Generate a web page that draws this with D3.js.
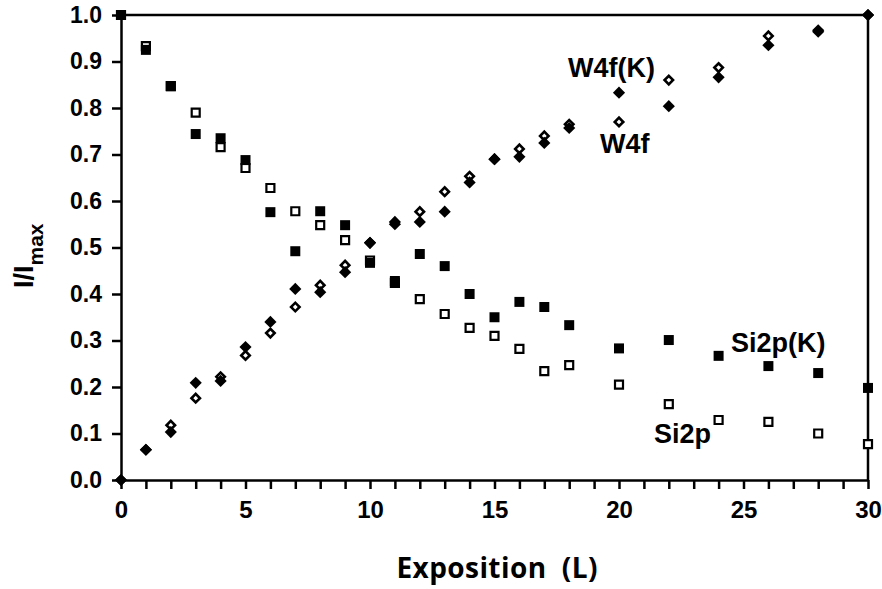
<!DOCTYPE html>
<html>
<head>
<meta charset="utf-8">
<script src="https://cdn.jsdelivr.net/npm/d3@7"></script>
<style>
  html, body { margin: 0; padding: 0; background: #fff; }
  svg { display: block; }
  .tick text { font-family: "Liberation Sans", Arial, sans-serif; font-weight: bold; fill: #000; }
</style>
</head>
<body>
<svg id="chart" width="882" height="589"></svg>
<script>
// ---- data ----
const exposure = [0, 1, 2, 3, 4, 5, 6, 7, 8, 9, 10, 11, 12, 13, 14, 15, 16, 17, 18, 20, 22, 24, 26, 28, 30];
const si2pK = [1.0, 0.925, 0.847, 0.744, 0.735, 0.688, 0.576, 0.492, 0.578, 0.548, 0.467, 0.428, 0.486, 0.46, 0.40, 0.35, 0.383, 0.372, 0.333, 0.283, 0.301, 0.267, 0.245, 0.23, 0.198];
const si2p  = [1.0, 0.933, 0.847, 0.79, 0.716, 0.671, 0.628, 0.578, 0.548, 0.516, 0.472, 0.424, 0.389, 0.357, 0.327, 0.31, 0.282, 0.234, 0.247, 0.205, 0.163, 0.129, 0.125, 0.10, 0.077];
const w4fK  = [0.0, 0.065, 0.103, 0.209, 0.213, 0.286, 0.34, 0.411, 0.404, 0.447, 0.51, 0.55, 0.555, 0.577, 0.64, 0.69, 0.695, 0.725, 0.757, 0.833, 0.804, 0.866, 0.935, 0.964, 1.0];
const w4f   = [0.0, 0.065, 0.118, 0.176, 0.222, 0.268, 0.316, 0.372, 0.419, 0.462, 0.51, 0.555, 0.577, 0.62, 0.653, 0.69, 0.712, 0.74, 0.765, 0.77, 0.86, 0.887, 0.955, 0.967, 1.0];
const xTicks = d3.range(0, 31, 1);
const yTicks = [0, 0.1, 0.2, 0.3, 0.4, 0.5, 0.6, 0.7, 0.8, 0.9, 1.0];
const seriesLabels = ["W4f(K)", "W4f", "Si2p(K)", "Si2p"];

// ---- setup ----
const svg = d3.select("#chart");
const x = d3.scaleLinear().domain([0, 30]).range([121, 868]);
const y = d3.scaleLinear().domain([0, 1]).range([480, 15]);

// axes
const xAxis = d3.axisBottom(x)
  .tickValues(xTicks)
  .tickSize(9)
  .tickSizeOuter(0)
  .tickPadding(12)
  .tickFormat(d => d % 5 === 0 ? String(d) : "");
const gx = svg.append("g").attr("transform", `translate(0,${y(0)})`).call(xAxis);
gx.select(".domain").attr("stroke", "#000").attr("stroke-width", 2.5);
gx.selectAll(".tick line").attr("stroke", "#000").attr("stroke-width", 2.5);
gx.selectAll(".tick text").style("font-size", "24px").attr("dy", "0.71em");

const yAxis = d3.axisLeft(y)
  .tickValues(yTicks)
  .tickSize(9)
  .tickSizeOuter(0)
  .tickPadding(10)
  .tickFormat(d3.format(".1f"));
const gy = svg.append("g").attr("transform", `translate(${x(0)},0)`).call(yAxis);
gy.select(".domain").attr("stroke", "#000").attr("stroke-width", 2.5);
gy.selectAll(".tick line").attr("stroke", "#000").attr("stroke-width", 2.5);
gy.selectAll(".tick text").style("font-size", "23px");

// frame top & right
svg.append("line").attr("x1", x(0)).attr("x2", x(30)).attr("y1", y(1)).attr("y2", y(1))
  .attr("stroke", "#000").attr("stroke-width", 2.5);
svg.append("line").attr("x1", x(30)).attr("x2", x(30)).attr("y1", y(1)).attr("y2", y(0))
  .attr("stroke", "#000").attr("stroke-width", 2.5);

// markers
const sq = d3.symbol().type(d3.symbolSquare);
function drawSeries(vals, kind, filled) {
  const pts = exposure.map((e, i) => ({ e, v: vals[i] }));
  const g = svg.append("g");
  g.selectAll("path").data(pts).join("path")
    .attr("d", kind === "square" ? sq.size(filled ? 100 : 64)() : sq.size(filled ? 74 : 36)())
    .attr("transform", d => `translate(${x(d.e)},${y(d.v)})` + (kind === "diamond" ? " rotate(45)" : ""))
    .attr("fill", filled ? "#000" : "#fff")
    .attr("stroke", "#000")
    .attr("stroke-width", filled ? 0 : (kind === "square" ? 2.2 : 2.6));
}
// open series underneath, filled on top
drawSeries(si2p, "square", false);
drawSeries(w4f, "diamond", false);
drawSeries(si2pK, "square", true);
drawSeries(w4fK, "diamond", true);

// series labels
const labelFont = "bold 27px 'Liberation Sans', Arial, sans-serif";
const labelPos = [
  { t: seriesLabels[0], px: 568, py: 77 },
  { t: seriesLabels[1], px: 600, py: 153 },
  { t: seriesLabels[2], px: 731, py: 352 },
  { t: seriesLabels[3], px: 654, py: 443 }
];
svg.append("g").selectAll("text").data(labelPos).join("text")
  .attr("x", d => d.px).attr("y", d => d.py)
  .style("font", labelFont).attr("fill", "#000")
  .text(d => d.t);

// x axis title
svg.append("text")
  .attr("x", 497).attr("y", 578)
  .attr("text-anchor", "middle")
  .style("font-family", "'Open Sans', 'Noto Sans', sans-serif")
  .style("font-weight", "bold")
  .style("font-size", "28px")
  .attr("fill", "#000")
  .attr("textLength", 201)
  .attr("xml:space", "preserve")
  .text("Exposition  (L)");

// y axis title
const yt = svg.append("text")
  .attr("transform", "translate(33,288) rotate(-90)")
  .attr("text-anchor", "start")
  .style("font-family", "'Liberation Sans', Arial, sans-serif")
  .style("font-weight", "bold")
  .style("font-size", "27px")
  .attr("fill", "#000");
yt.append("tspan").text("I/I");
yt.append("tspan").attr("dy", 10).style("font-size", "21px").text("max");
</script>
</body>
</html>
